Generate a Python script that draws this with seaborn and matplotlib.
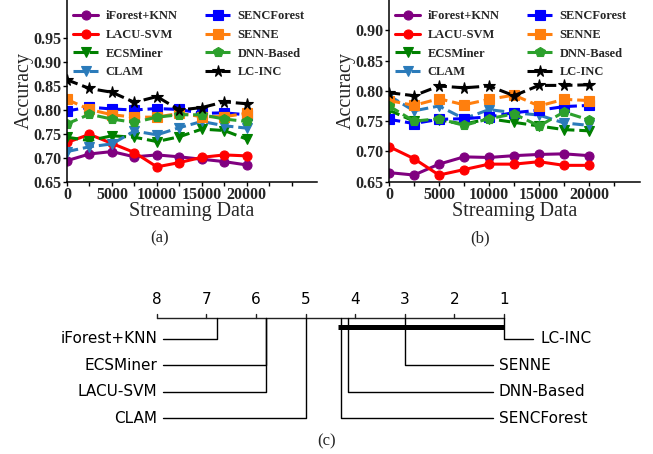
import numpy as np
import pandas as pd
import matplotlib
matplotlib.use("Agg")
import matplotlib.pyplot as plt
import seaborn as sns

# ---------------- data ----------------
methods = ["iForest+KNN", "LACU-SVM", "ECSMiner", "CLAM",
           "SENCForest", "SENNE", "DNN-Based", "LC-INC"]
colors = ["#800080", "#ff0000", "#008000", "#2b7bba",
          "#0000ff", "#ff7f0e", "#2ca02c", "#000000"]
marker_list = ["o", "o", "v", "v", "s", "s", "p", "*"]
solid_list = [True, True, False, False, False, False, False, False]
stream = [0, 2500, 5000, 7500, 10000, 12500, 15000, 17500, 20000]

# panel (a)
a_iforest = [0.694, 0.708, 0.713, 0.702, 0.706, 0.702, 0.697, 0.692, 0.685]
a_lacu    = [0.732, 0.749, 0.730, 0.711, 0.681, 0.690, 0.701, 0.706, 0.704]
a_ecs     = [0.743, 0.736, 0.746, 0.743, 0.734, 0.744, 0.760, 0.757, 0.739]
a_clam    = [0.713, 0.723, 0.729, 0.756, 0.748, 0.763, 0.776, 0.767, 0.762]
a_senc    = [0.798, 0.806, 0.802, 0.800, 0.803, 0.801, 0.793, 0.794, 0.790]
a_senne   = [0.822, 0.801, 0.790, 0.785, 0.785, 0.793, 0.786, 0.786, 0.793]
a_dnn     = [0.771, 0.791, 0.781, 0.774, 0.785, 0.790, 0.790, 0.781, 0.776]
a_lcinc   = [0.863, 0.845, 0.837, 0.816, 0.828, 0.800, 0.805, 0.817, 0.813]

# panel (b)
b_iforest = [0.665, 0.661, 0.679, 0.691, 0.690, 0.693, 0.695, 0.696, 0.693]
b_lacu    = [0.708, 0.688, 0.661, 0.670, 0.679, 0.679, 0.683, 0.677, 0.677]
b_ecs     = [0.768, 0.750, 0.752, 0.745, 0.754, 0.748, 0.742, 0.736, 0.734]
b_clam    = [0.792, 0.767, 0.775, 0.754, 0.769, 0.764, 0.760, 0.747, 0.743]
b_senc    = [0.753, 0.746, 0.753, 0.754, 0.757, 0.764, 0.768, 0.774, 0.776]
b_senne   = [0.784, 0.776, 0.787, 0.777, 0.786, 0.793, 0.775, 0.786, 0.784]
b_dnn     = [0.775, 0.750, 0.754, 0.743, 0.754, 0.762, 0.742, 0.765, 0.752]
b_lcinc   = [0.797, 0.792, 0.808, 0.805, 0.808, 0.792, 0.809, 0.809, 0.810]

# panel (c): critical difference diagram (average ranks)
cd_left_names = ["iForest+KNN", "ECSMiner", "LACU-SVM", "CLAM"]
cd_left_ranks = [6.79, 5.80, 5.80, 5.00]
cd_right_names = ["LC-INC", "SENNE", "DNN-Based", "SENCForest"]
cd_right_ranks = [1.00, 3.00, 4.15, 4.29]
cd_group = [4.34, 1.00]
cd_tick_ranks = [8, 7, 6, 5, 4, 3, 2, 1]

# ---------------- style ----------------
sns.set_style("ticks")
plt.rcParams["font.family"] = ["Liberation Serif", "DejaVu Serif"]
plt.rcParams["axes.linewidth"] = 1.1

W, H = 653, 454
fig = plt.figure(figsize=(W / 100, H / 100), dpi=100)


def make_df(series):
    rows = []
    for name, vals in zip(methods, series):
        for x, v in zip(stream, vals):
            rows.append({"stream": x, "acc": v, "method": name})
    return pd.DataFrame(rows)


def draw_panel(ax, series, ylim, yticks, xlim, xticks, width_px):
    df = make_df(series)
    sns.lineplot(data=df, x="stream", y="acc", hue="method", style="method",
                 hue_order=methods, style_order=methods,
                 palette=dict(zip(methods, colors)),
                 markers=dict(zip(methods, marker_list)),
                 dashes={m: ("" if s else (3.7, 1.6)) for m, s in zip(methods, solid_list)},
                 linewidth=2.2, markersize=6.5, legend=False, sort=False,
                 errorbar=None, ax=ax)
    lines = ax.get_lines()[:len(methods)]
    for ln, mk in zip(lines, marker_list):
        ln.set_markeredgecolor(ln.get_color())
        ln.set_markerfacecolor(ln.get_color())
        ln.set_markeredgewidth(0.8)
        if mk == "*":
            ln.set_markersize(8.5)
        if mk == "p":
            ln.set_markersize(7)
    ax.set_xlim(*xlim)
    ax.set_ylim(*ylim)
    ax.set_yticks(yticks)
    ax.set_yticklabels([f"{v:.2f}" for v in yticks])
    ax.set_xticks(xticks)
    ax.set_xticklabels([str(t) if (t % 5000 == 0 and t <= 20000) else "" for t in xticks])
    for lab in ax.get_xticklabels() + ax.get_yticklabels():
        lab.set_fontweight("bold")
        lab.set_fontsize(11.5)
    ax.tick_params(axis="both", direction="out", length=3, width=1.0, pad=1, color="black")
    ax.set_xlabel("Streaming Data", fontsize=14.5, labelpad=-1)
    ax.set_ylabel("Accuracy", fontsize=14.5, labelpad=0)
    sns.despine(ax=ax)
    for sp in ["left", "bottom"]:
        ax.spines[sp].set_color("black")
    ax.legend(lines, methods, ncol=2, loc="upper left",
              bbox_to_anchor=(6 / width_px, 1 - 10.5 / 182),
              frameon=False, borderpad=0, borderaxespad=0,
              prop={"family": "Liberation Serif", "weight": "bold", "size": 9},
              labelspacing=0.53, handlelength=2.0, handletextpad=0.6,
              columnspacing=2.2)


ax_a = fig.add_axes([67 / W, 1 - 181.7 / H, 249.7 / W, 181.7 / H])
draw_panel(ax_a,
           [a_iforest, a_lacu, a_ecs, a_clam, a_senc, a_senne, a_dnn, a_lcinc],
           (0.65, 1.03), [0.65, 0.70, 0.75, 0.80, 0.85, 0.90, 0.95],
           (0, 27780), list(range(0, 25001, 2500)), 249.7)

ax_b = fig.add_axes([389 / W, 1 - 181.7 / H, 251 / W, 181.7 / H])
draw_panel(ax_b,
           [b_iforest, b_lacu, b_ecs, b_clam, b_senc, b_senne, b_dnn, b_lcinc],
           (0.65, 0.95), [0.65, 0.70, 0.75, 0.80, 0.85, 0.90],
           (0, 25100), list(range(0, 22501, 2500)), 251)

fig.text(160 / W, 1 - 238 / H, "(a)", ha="center", va="center", fontsize=12)
fig.text(480 / W, 1 - 238 / H, "(b)", ha="center", va="center", fontsize=12)

# ---------------- panel (c): CD diagram ----------------
ax_c = fig.add_axes([0, 0, 1, 224 / H])
ax_c.set_axis_off()
px_per_rank = 49.6
x8 = 156.7


def rk(px):
    return 8 - (px - x8) / px_per_rank


ax_c.set_xlim(rk(0), rk(W))
ax_c.set_ylim(454, 230)

axis_y = 318.3
cd_font = dict(family="DejaVu Sans", fontsize=11, color="black")
ax_c.plot([max(cd_tick_ranks), min(cd_tick_ranks)], [axis_y, axis_y], color="#222222", lw=1.0)
for r in cd_tick_ranks:
    ax_c.plot([r, r], [axis_y, axis_y - 4], color="#222222", lw=1.0)
    ax_c.text(r, 299, str(r), ha="center", va="center", **cd_font)

row_y = [338.5, 365.0, 391.7, 418.3]
for name, r, y in zip(cd_left_names, cd_left_ranks, row_y):
    ax_c.plot([r, r, rk(162.7)], [axis_y, y, y], color="black", lw=1.0)
    ax_c.text(rk(157.5), y, name, ha="right", va="center", **cd_font)

for i, (name, r, y) in enumerate(zip(cd_right_names, cd_right_ranks, row_y)):
    if i == 0:
        end_px, text_px = 533.3, 540
    else:
        end_px, text_px = 493.3, 499
    ax_c.plot([r, r, rk(end_px)], [axis_y, y, y], color="black", lw=1.0)
    ax_c.text(rk(text_px), y, name, ha="left", va="center", **cd_font)

ax_c.plot(cd_group, [326.7, 326.7], color="black", lw=3.6, solid_capstyle="butt")

fig.text(327 / W, 1 - 441 / H, "(c)", ha="center", va="center", fontsize=12)

fig.savefig("out.png", dpi=100)
